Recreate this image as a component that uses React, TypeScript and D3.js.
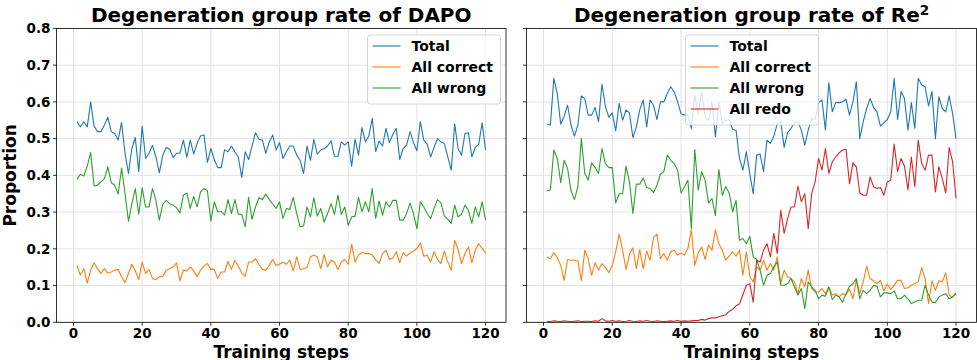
import React from 'react';
import * as d3 from 'd3';

// training steps 1..120
const steps = d3.range(1, 121);

const xTicks = [0, 20, 40, 60, 80, 100, 120];
const yTicks = [0, 0.1, 0.2, 0.3, 0.4, 0.5, 0.6, 0.7, 0.8];

// ---- DAPO ----
const dapoTotal = [
  0.546, 0.532, 0.546, 0.532, 0.600, 0.534, 0.519, 0.519, 0.537, 0.558, 0.519, 0.514, 0.496, 0.544, 0.460, 0.405, 0.473, 0.503, 0.410, 0.534,
  0.446, 0.460, 0.482, 0.450, 0.407, 0.455, 0.476, 0.471, 0.449, 0.460, 0.460, 0.496, 0.449, 0.496, 0.458, 0.487, 0.507, 0.510, 0.435, 0.473,
  0.443, 0.421, 0.421, 0.470, 0.464, 0.480, 0.464, 0.450, 0.394, 0.464, 0.443, 0.480, 0.516, 0.498, 0.496, 0.460, 0.491, 0.510, 0.469, 0.489,
  0.446, 0.464, 0.480, 0.480, 0.455, 0.441, 0.405, 0.480, 0.441, 0.498, 0.458, 0.469, 0.473, 0.480, 0.494, 0.452, 0.452, 0.491, 0.482, 0.491,
  0.425, 0.499, 0.455, 0.530, 0.491, 0.507, 0.555, 0.465, 0.493, 0.480, 0.528, 0.489, 0.512, 0.528, 0.443, 0.473, 0.482, 0.519, 0.489, 0.467,
  0.546, 0.496, 0.485, 0.450, 0.476, 0.500, 0.491, 0.487, 0.450, 0.414, 0.540, 0.473, 0.455, 0.514, 0.516, 0.450, 0.476, 0.485, 0.543, 0.469,
];
const dapoCorrect = [
  0.154, 0.128, 0.146, 0.107, 0.142, 0.162, 0.146, 0.133, 0.146, 0.134, 0.137, 0.142, 0.144, 0.124, 0.108, 0.133, 0.158, 0.140, 0.116, 0.164,
  0.133, 0.144, 0.119, 0.116, 0.124, 0.125, 0.142, 0.146, 0.151, 0.162, 0.113, 0.142, 0.140, 0.151, 0.140, 0.125, 0.142, 0.153, 0.160, 0.144,
  0.144, 0.119, 0.137, 0.137, 0.166, 0.144, 0.169, 0.153, 0.134, 0.125, 0.164, 0.164, 0.173, 0.158, 0.144, 0.142, 0.155, 0.171, 0.155, 0.158,
  0.164, 0.158, 0.169, 0.140, 0.178, 0.144, 0.146, 0.149, 0.178, 0.183, 0.178, 0.146, 0.184, 0.151, 0.169, 0.164, 0.144, 0.164, 0.171, 0.158,
  0.213, 0.164, 0.183, 0.190, 0.187, 0.187, 0.183, 0.170, 0.160, 0.187, 0.196, 0.171, 0.175, 0.192, 0.162, 0.189, 0.180, 0.189, 0.194, 0.201,
  0.216, 0.180, 0.183, 0.164, 0.192, 0.171, 0.160, 0.194, 0.164, 0.142, 0.223, 0.198, 0.160, 0.187, 0.205, 0.162, 0.196, 0.214, 0.201, 0.189,
];
const dapoWrong = [
  0.389, 0.403, 0.398, 0.425, 0.462, 0.371, 0.373, 0.382, 0.391, 0.423, 0.380, 0.373, 0.349, 0.420, 0.351, 0.275, 0.323, 0.364, 0.294, 0.366,
  0.314, 0.314, 0.364, 0.332, 0.278, 0.322, 0.332, 0.323, 0.319, 0.312, 0.298, 0.346, 0.352, 0.310, 0.343, 0.314, 0.355, 0.364, 0.358, 0.276,
  0.328, 0.301, 0.301, 0.292, 0.334, 0.296, 0.334, 0.294, 0.294, 0.260, 0.340, 0.280, 0.314, 0.339, 0.334, 0.349, 0.334, 0.322, 0.310, 0.328,
  0.282, 0.310, 0.307, 0.340, 0.296, 0.260, 0.262, 0.314, 0.287, 0.339, 0.289, 0.310, 0.273, 0.296, 0.323, 0.294, 0.346, 0.294, 0.314, 0.264,
  0.287, 0.289, 0.340, 0.301, 0.328, 0.301, 0.364, 0.283, 0.330, 0.292, 0.328, 0.314, 0.332, 0.332, 0.278, 0.278, 0.296, 0.325, 0.296, 0.255,
  0.328, 0.314, 0.296, 0.282, 0.310, 0.334, 0.325, 0.289, 0.280, 0.269, 0.319, 0.287, 0.294, 0.319, 0.305, 0.269, 0.314, 0.287, 0.328, 0.278,
];

// ---- Re^2 ----
const reTotal = [
  0.539, 0.537, 0.664, 0.623, 0.539, 0.561, 0.591, 0.537, 0.507, 0.537, 0.616, 0.609, 0.564, 0.564, 0.585, 0.546, 0.648, 0.587, 0.558, 0.570,
  0.521, 0.596, 0.550, 0.578, 0.570, 0.503, 0.532, 0.579, 0.605, 0.532, 0.605, 0.591, 0.552, 0.600, 0.600, 0.623, 0.641, 0.627, 0.600, 0.568,
  0.564, 0.564, 0.528, 0.618, 0.568, 0.627, 0.559, 0.550, 0.600, 0.505, 0.600, 0.541, 0.550, 0.552, 0.525, 0.523, 0.446, 0.414, 0.464, 0.405,
  0.350, 0.455, 0.458, 0.410, 0.496, 0.487, 0.507, 0.541, 0.546, 0.476, 0.516, 0.528, 0.543, 0.546, 0.523, 0.482, 0.523, 0.555, 0.552, 0.598,
  0.605, 0.523, 0.652, 0.573, 0.598, 0.598, 0.600, 0.607, 0.564, 0.600, 0.655, 0.500, 0.546, 0.582, 0.609, 0.585, 0.573, 0.534, 0.543, 0.552,
  0.573, 0.664, 0.552, 0.628, 0.609, 0.523, 0.598, 0.528, 0.664, 0.646, 0.641, 0.589, 0.628, 0.500, 0.614, 0.582, 0.573, 0.616, 0.568, 0.500,
];
const reCorrect = [
  0.178, 0.173, 0.190, 0.176, 0.155, 0.114, 0.171, 0.169, 0.169, 0.167, 0.113, 0.196, 0.173, 0.128, 0.162, 0.142, 0.160, 0.149, 0.135, 0.155,
  0.192, 0.240, 0.196, 0.144, 0.185, 0.203, 0.146, 0.198, 0.146, 0.194, 0.169, 0.231, 0.240, 0.173, 0.187, 0.169, 0.192, 0.196, 0.183, 0.189,
  0.183, 0.201, 0.252, 0.155, 0.189, 0.205, 0.171, 0.210, 0.196, 0.252, 0.214, 0.196, 0.169, 0.180, 0.192, 0.180, 0.196, 0.128, 0.192, 0.124,
  0.110, 0.151, 0.142, 0.169, 0.142, 0.160, 0.142, 0.178, 0.105, 0.142, 0.124, 0.119, 0.110, 0.078, 0.119, 0.096, 0.142, 0.092, 0.083, 0.083,
  0.092, 0.078, 0.096, 0.074, 0.078, 0.069, 0.078, 0.075, 0.090, 0.064, 0.114, 0.078, 0.110, 0.153, 0.119, 0.113, 0.105, 0.114, 0.085, 0.104,
  0.089, 0.101, 0.114, 0.114, 0.092, 0.094, 0.101, 0.105, 0.110, 0.149, 0.119, 0.051, 0.113, 0.087, 0.113, 0.110, 0.135, 0.074, 0.069, 0.078,
];
const reWrong = [
  0.358, 0.360, 0.469, 0.446, 0.380, 0.441, 0.419, 0.358, 0.334, 0.369, 0.500, 0.405, 0.387, 0.434, 0.421, 0.405, 0.473, 0.432, 0.421, 0.421,
  0.325, 0.350, 0.350, 0.425, 0.382, 0.296, 0.376, 0.376, 0.393, 0.367, 0.364, 0.353, 0.373, 0.403, 0.410, 0.455, 0.441, 0.432, 0.414, 0.352,
  0.369, 0.387, 0.255, 0.470, 0.360, 0.410, 0.387, 0.325, 0.337, 0.290, 0.416, 0.346, 0.369, 0.352, 0.301, 0.332, 0.223, 0.228, 0.214, 0.234,
  0.178, 0.171, 0.142, 0.101, 0.128, 0.133, 0.151, 0.164, 0.101, 0.101, 0.105, 0.119, 0.096, 0.074, 0.092, 0.037, 0.110, 0.096, 0.087, 0.064,
  0.074, 0.071, 0.096, 0.062, 0.074, 0.069, 0.055, 0.078, 0.098, 0.105, 0.119, 0.064, 0.087, 0.078, 0.087, 0.101, 0.098, 0.069, 0.080, 0.080,
  0.078, 0.085, 0.064, 0.064, 0.074, 0.064, 0.051, 0.055, 0.060, 0.060, 0.101, 0.074, 0.055, 0.053, 0.069, 0.074, 0.078, 0.064, 0.069, 0.080,
];
const reRedo = [
  0.003, 0.002, 0.004, 0.003, 0.002, 0.004, 0.003, 0.002, 0.003, 0.004, 0.002, 0.003, 0.003, 0.002, 0.004, 0.003, 0.010, 0.004, 0.003, 0.005,
  0.003, 0.004, 0.002, 0.003, 0.005, 0.003, 0.002, 0.004, 0.003, 0.005, 0.003, 0.002, 0.004, 0.003, 0.002, 0.003, 0.004, 0.003, 0.005, 0.003,
  0.004, 0.003, 0.004, 0.005, 0.005, 0.008, 0.006, 0.010, 0.012, 0.012, 0.015, 0.018, 0.020, 0.030, 0.035, 0.045, 0.050, 0.075, 0.101, 0.105,
  0.055, 0.169, 0.164, 0.196, 0.214, 0.178, 0.242, 0.187, 0.305, 0.242, 0.282, 0.314, 0.314, 0.371, 0.328, 0.350, 0.255, 0.350, 0.382, 0.446,
  0.414, 0.473, 0.405, 0.437, 0.450, 0.461, 0.469, 0.471, 0.377, 0.434, 0.423, 0.352, 0.346, 0.346, 0.396, 0.369, 0.364, 0.367, 0.346, 0.382,
  0.387, 0.485, 0.410, 0.446, 0.425, 0.360, 0.450, 0.369, 0.496, 0.432, 0.414, 0.455, 0.455, 0.355, 0.423, 0.391, 0.352, 0.476, 0.437, 0.337,
];

const C = { total: '#1f77b4', correct: '#ff7f0e', wrong: '#2ca02c', redo: '#d62728' };
const FONT = '"DejaVu Sans", sans-serif';

const top = 28.4;
const bottom = 322.3;

type Series = { name: string; color: string; values: number[] };

function Panel({ x0, x1, title, series, legendX, showYLabels }: {
  x0: number; x1: number; title: React.ReactNode; series: Series[]; legendX: number; showYLabels: boolean;
}) {
  const x = d3.scaleLinear().domain([1 - 5.95, 120 + 5.95]).range([x0, x1]);
  const y = d3.scaleLinear().domain([0, 0.8]).range([bottom, top]);
  const line = d3.line<number>().x((_, i) => x(steps[i])).y((d) => y(d));
  const legW = 133;
  const legH = 8 + series.length * 21 - 2;

  return (
    <g>
      {/* grid */}
      {xTicks.map((t) => (
        <line key={'gx' + t} x1={x(t)} x2={x(t)} y1={top} y2={bottom} stroke="#e3e3e3" strokeWidth={1} />
      ))}
      {yTicks.map((t) => (
        <line key={'gy' + t} x1={x0} x2={x1} y1={y(t)} y2={y(t)} stroke="#e3e3e3" strokeWidth={1} />
      ))}

      {/* lines */}
      {series.map((s) => (
        <path key={s.name} d={line(s.values) || ''} fill="none" stroke={s.color} strokeWidth={1.1} strokeLinejoin="round" />
      ))}

      {/* spines */}
      <rect x={x0} y={top} width={x1 - x0} height={bottom - top} fill="none" stroke="#000" strokeWidth={0.8} />

      {/* ticks */}
      {xTicks.map((t) => (
        <g key={'tx' + t}>
          <line x1={x(t)} x2={x(t)} y1={bottom} y2={bottom + 3.5} stroke="#000" strokeWidth={0.8} />
          <text x={x(t)} y={338.3} textAnchor="middle" fontFamily={FONT} fontWeight="bold" fontSize={13.5}>{t}</text>
        </g>
      ))}
      {yTicks.map((t) => (
        <g key={'ty' + t}>
          <line x1={x0 - 3.5} x2={x0} y1={y(t)} y2={y(t)} stroke="#000" strokeWidth={0.8} />
          {showYLabels && (
            <text x={x0 - 6} y={y(t)} dy="0.36em" textAnchor="end" fontFamily={FONT} fontWeight="bold" fontSize={13.5}>
              {d3.format('.1f')(t)}
            </text>
          )}
        </g>
      ))}

      {/* title + x label */}
      <text x={(x0 + x1) / 2} y={22} textAnchor="middle" fontFamily={FONT} fontWeight="bold" fontSize={20}>{title}</text>
      <text x={(x0 + x1) / 2} y={357.5} textAnchor="middle" fontFamily={FONT} fontWeight="bold" fontSize={17}>Training steps</text>

      {/* legend */}
      <g transform={`translate(${legendX},35)`}>
        <rect x={0} y={0} width={legW} height={legH} rx={3} fill="#fff" fillOpacity={0.8} stroke="#cccccc" strokeWidth={0.8} />
        {series.map((s, i) => (
          <g key={'lg' + s.name} transform={`translate(0,${11 + i * 21})`}>
            <line x1={5} x2={33} y1={0} y2={0} stroke={s.color} strokeWidth={1.1} />
            <text x={44} y={0} dy="0.36em" fontFamily={FONT} fontWeight="bold" fontSize={14}>{s.name}</text>
          </g>
        ))}
      </g>
    </g>
  );
}

export default function App() {
  const dapoSeries: Series[] = [
    { name: 'Total', color: C.total, values: dapoTotal },
    { name: 'All correct', color: C.correct, values: dapoCorrect },
    { name: 'All wrong', color: C.wrong, values: dapoWrong },
  ];
  const reSeries: Series[] = [
    { name: 'Total', color: C.total, values: reTotal },
    { name: 'All correct', color: C.correct, values: reCorrect },
    { name: 'All wrong', color: C.wrong, values: reWrong },
    { name: 'All redo', color: C.redo, values: reRedo },
  ];
  return (
    <div style={{ position: 'absolute', left: 0, top: 0 }}>
      <svg width={977} height={360} style={{ display: 'block', background: '#fff' }}>
        <text transform={`translate(16,${(top + bottom) / 2}) rotate(-90)`} textAnchor="middle" fontFamily={FONT} fontWeight="bold" fontSize={17}>
          Proportion
        </text>
        <Panel x0={56.5} x1={506} title="Degeneration group rate of DAPO" series={dapoSeries} legendX={367.5} showYLabels={true} />
        <Panel
          x0={526.5}
          x1={976.5}
          title={<>Degeneration group rate of Re<tspan dy={-7} fontSize={13.5}>2</tspan></>}
          series={reSeries}
          legendX={685.5}
          showYLabels={false}
        />
      </svg>
    </div>
  );
}
